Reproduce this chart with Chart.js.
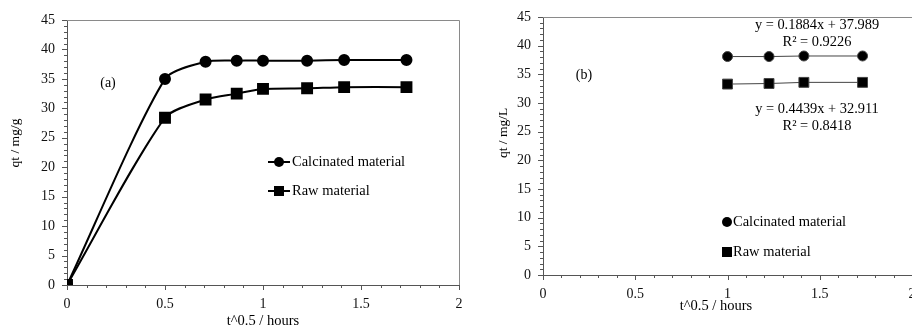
<!DOCTYPE html>
<html>
<head>
<meta charset="utf-8">
<title>Adsorption kinetics</title>
<script src="https://cdn.jsdelivr.net/npm/chart.js@4.4.1/dist/chart.umd.min.js"></script>
<style>
  body { margin: 0; background: #fff; overflow: hidden; }
  canvas { position: absolute; top: 0; }
  #leftChart { left: 0; }
  #rightChart { left: 470px; }
</style>
</head>
<body>
<canvas id="leftChart" width="470" height="327"></canvas>
<canvas id="rightChart" width="442" height="327"></canvas>
<script>
/* =========================
   DATA
========================= */
const sqrtTime = [0, 0.5, 0.707, 0.866, 1, 1.225, 1.414, 1.732];
const calcinated = [0, 35.0, 37.9, 38.1, 38.1, 38.1, 38.2, 38.2];
const raw = [0, 28.4, 31.5, 32.5, 33.3, 33.4, 33.6, 33.6];

const fitTime = [1, 1.225, 1.414, 1.732];
const calcinatedFit = [38.1, 38.1, 38.2, 38.2];
const rawFit = [33.3, 33.4, 33.6, 33.6];

const xTicks = [0, 0.5, 1, 1.5, 2];
const yTicks = [0, 5, 10, 15, 20, 25, 30, 35, 40, 45];

const seriesNames = ["Calcinated material", "Raw material"];
const calcinatedEq = ["y = 0.1884x + 37.989", "R\u00B2 = 0.9226"];
const rawEq = ["y = 0.4439x + 32.911", "R\u00B2 = 0.8418"];

/* =========================
   STYLE
========================= */
const SERIF = "'Liberation Serif', 'Times New Roman', serif";
const AXIS = "#555";
const FRAME = "#8a8a8a";

const pts = (xs, ys) => xs.map((x, i) => ({ x, y: ys[i] }));

function text(ctx, str, x, y, size, align) {
  ctx.font = `${size}px ${SERIF}`;
  ctx.fillStyle = "#000";
  ctx.textAlign = align || "center";
  ctx.textBaseline = "middle";
  ctx.fillText(str, x, y);
}

function marker(ctx, style, x, y) {
  ctx.fillStyle = "#000";
  if (style === "circle") {
    ctx.beginPath();
    ctx.arc(x, y, 5, 0, Math.PI * 2);
    ctx.fill();
  } else {
    ctx.fillRect(x - 5, y - 5, 10, 10);
  }
}

function axes(yWidth, xHeight) {
  const tickFont = { family: SERIF, size: 14 };
  return {
    x: {
      type: "linear",
      min: 0,
      max: 2,
      afterBuildTicks: s => { s.ticks = xTicks.map(v => ({ value: v })); },
      afterFit: s => { s.height = xHeight; s.paddingLeft = 0; s.paddingRight = 0; },
      grid: { display: false, drawTicks: false },
      border: { color: AXIS, width: 1 },
      ticks: {
        color: "#111",
        font: tickFont,
        padding: 11,
        maxRotation: 0,
        autoSkip: false,
        callback: v => String(v)
      }
    },
    y: {
      type: "linear",
      min: 0,
      max: 45,
      afterBuildTicks: s => { s.ticks = yTicks.map(v => ({ value: v })); },
      afterFit: s => { s.width = yWidth; s.paddingTop = 0; s.paddingBottom = 0; },
      grid: { display: false, drawTicks: false },
      border: { color: AXIS, width: 1 },
      ticks: { color: "#111", font: tickFont, padding: 12, autoSkip: false, callback: v => String(v) }
    }
  };
}

/* minor + major tick marks on both axes */
function drawTicks(chart) {
  const { ctx, chartArea } = chart;
  const { x, y } = chart.scales;
  ctx.save();
  ctx.strokeStyle = AXIS;
  ctx.lineWidth = 1;
  ctx.beginPath();
  for (let v = 0; v <= 45; v++) {
    const py = Math.round(y.getPixelForValue(v)) + 0.5;
    const len = v % 5 === 0 ? 5 : 3;
    ctx.moveTo(chartArea.left - len, py);
    ctx.lineTo(chartArea.left, py);
  }
  for (let i = 0; i <= 20; i++) {
    const px = Math.round(x.getPixelForValue(i / 10)) + 0.5;
    if (px > chart.width) break;
    const len = i % 5 === 0 ? 5 : 3;
    ctx.moveTo(px, chartArea.bottom);
    ctx.lineTo(px, chartArea.bottom + len);
  }
  ctx.stroke();
  ctx.restore();
}

function decor(draw) {
  return {
    id: "decor",
    afterDraw(chart) {
      drawTicks(chart);
      const ctx = chart.ctx;
      ctx.save();
      draw(ctx, chart.chartArea);
      ctx.restore();
    }
  };
}

const common = {
  responsive: false,
  devicePixelRatio: 1,
  animation: false,
  plugins: { legend: { display: false }, tooltip: { enabled: false } }
};

/* =========================
   (a) KINETIC CURVES
========================= */
new Chart(document.getElementById("leftChart"), {
  type: "scatter",
  data: {
    datasets: [
      {
        label: seriesNames[1],
        data: pts(sqrtTime, raw),
        showLine: true,
        tension: 0.25,
        borderColor: "#000",
        borderWidth: 2,
        backgroundColor: "#000",
        pointStyle: "rect",
        pointRadius: 7,
        order: 0
      },
      {
        label: seriesNames[0],
        data: pts(sqrtTime, calcinated),
        showLine: true,
        tension: 0.25,
        borderColor: "#000",
        borderWidth: 2,
        backgroundColor: "#000",
        pointStyle: "circle",
        pointRadius: 5,
        order: 1
      }
    ]
  },
  options: {
    ...common,
    layout: { autoPadding: false, padding: { top: 20, right: 11, left: 0, bottom: 0 } },
    scales: axes(67, 42)
  },
  plugins: [decor((ctx, area) => {
    // plot frame
    ctx.strokeStyle = FRAME;
    ctx.lineWidth = 1;
    ctx.beginPath();
    ctx.moveTo(area.left, area.top + 0.5);
    ctx.lineTo(area.right + 0.5, area.top + 0.5);
    ctx.lineTo(area.right + 0.5, area.bottom);
    ctx.stroke();

    // axis titles
    text(ctx, "t^0.5 / hours", (area.left + area.right) / 2, 321, 14.5);
    ctx.save();
    ctx.translate(15, 143);
    ctx.rotate(-Math.PI / 2);
    text(ctx, "qt / mg/g", 0, 0, 13.5);
    ctx.restore();

    text(ctx, "(a)", 108, 83, 14);

    // legend
    const rows = [["circle", 162], ["rect", 191]];
    rows.forEach(([style, ly], i) => {
      ctx.strokeStyle = "#000";
      ctx.lineWidth = 2;
      ctx.beginPath();
      ctx.moveTo(268, ly);
      ctx.lineTo(290, ly);
      ctx.stroke();
      marker(ctx, style, 279, ly);
      text(ctx, seriesNames[i], 292, ly, 14.5, "left");
    });
  })]
});

/* =========================
   (b) LINEAR FITS
========================= */
new Chart(document.getElementById("rightChart"), {
  type: "scatter",
  data: {
    datasets: [
      {
        label: seriesNames[0],
        data: pts(fitTime, calcinatedFit),
        showLine: true,
        borderColor: "#444",
        borderWidth: 1,
        backgroundColor: "#000",
        pointStyle: "circle",
        pointRadius: 5
      },
      {
        label: seriesNames[1],
        data: pts(fitTime, rawFit),
        showLine: true,
        borderColor: "#444",
        borderWidth: 1,
        backgroundColor: "#000",
        pointStyle: "rect",
        pointRadius: 7
      }
    ]
  },
  options: {
    ...common,
    layout: { autoPadding: false, padding: { top: 17, right: 0, left: 0, bottom: 0 } },
    scales: axes(73, 52)
  },
  plugins: [decor((ctx, area) => {
    ctx.strokeStyle = FRAME;
    ctx.lineWidth = 1;
    ctx.beginPath();
    ctx.moveTo(area.left, area.top + 0.5);
    ctx.lineTo(area.right, area.top + 0.5);
    ctx.stroke();

    text(ctx, "t^0.5 / hours", 246, 306, 14.5);
    ctx.save();
    ctx.translate(33, 133);
    ctx.rotate(-Math.PI / 2);
    text(ctx, "qt / mg/L", 0, 0, 13.5);
    ctx.restore();

    text(ctx, "(b)", 114, 75, 14);

    text(ctx, calcinatedEq[0], 347, 25, 14.4);
    text(ctx, calcinatedEq[1], 347, 42, 14.4);
    text(ctx, rawEq[0], 347, 109, 14.4);
    text(ctx, rawEq[1], 347, 126, 14.4);

    // legend (markers only)
    marker(ctx, "circle", 257, 222);
    text(ctx, seriesNames[0], 263, 222, 14.5, "left");
    marker(ctx, "rect", 257, 252);
    text(ctx, seriesNames[1], 263, 252, 14.5, "left");
  })]
});
</script>
</body>
</html>
